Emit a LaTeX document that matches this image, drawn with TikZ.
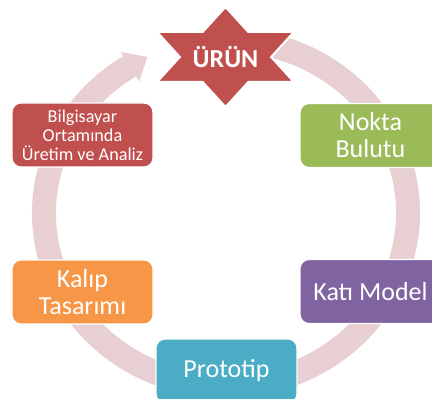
\documentclass[tikz,border=0pt]{standalone}
\usepackage{fontspec}
\setmainfont{Carlito}
\usetikzlibrary{calc}
\definecolor{cred}{HTML}{C0504D}
\definecolor{cgreen}{HTML}{9BBB59}
\definecolor{cpurple}{HTML}{8064A2}
\definecolor{corange}{HTML}{F79646}
\definecolor{cblue}{HTML}{4BACC6}
\definecolor{cring}{RGB}{232,207,209}
\tikzset{
  box/.style={rounded corners=9pt, draw=white, line width=1.2pt, minimum width=141pt, minimum height=64pt, text=white, align=center, inner sep=0pt},
  bigtxt/.style={font=\fontsize{26}{27}\selectfont},
  smalltxt/.style={font=\fontsize{18.2}{19}\selectfont},
}
\begin{document}
\begin{tikzpicture}[x=1pt,y=1pt]
\useasboundingbox (0,0) rectangle (432,399);
\clip (0,0) rectangle (432,399);
\coordinate (C) at (226,186);
% ring with arrow
\fill[cring] ($(C)+(80:194 and 185)$) arc[start angle=80, end angle=-238, x radius=194, y radius=185]
  -- ($(C)+(122:199 and 190)$) -- ($(C)+(115.6:182 and 173)$) -- ($(C)+(122:164 and 155)$)
  -- ($(C)+(122:170 and 161)$) arc[start angle=-238, end angle=80, x radius=170, y radius=161] -- cycle;
% star
\begin{scope}[shift={(225.5,342)}, xscale=1.58]
\filldraw[fill=cred, draw=white, line width=2pt]
  (90:50) -- (60:28.87) -- (30:50) -- (0:28.87) -- (-30:50) -- (-60:28.87) -- (-90:50)
  -- (-120:28.87) -- (-150:50) -- (180:28.87) -- (150:50) -- (120:28.87) -- cycle;
\end{scope}
\node[text=white, font=\fontsize{26}{28}\selectfont\bfseries] (urun) at (225.5,342) {ÜRÜN};
% boxes
\node[box, fill=cred, smalltxt] (bilg) at (82.5,264) {Bilgisayar\\Ortamında\\Üretim ve Analiz};
\node[box, fill=cgreen, bigtxt] (nokta) at (370.5,263.5) {Nokta\\Bulutu};
\node[box, fill=cpurple, bigtxt] (kati) at (370.5,107.5) {Katı Model};
\node[box, fill=corange, bigtxt] (kalip) at (82.5,107) {Kalıp\\Tasarımı};
\node[box, fill=cblue, bigtxt] (proto) at (226.5,28) {Prototip};
\end{tikzpicture}
\end{document}
